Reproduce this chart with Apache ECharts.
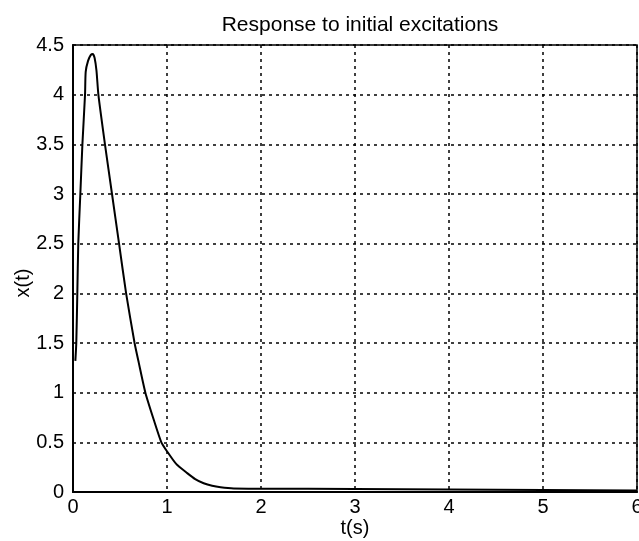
<!DOCTYPE html>
<html>
<head>
<meta charset="utf-8">
<script src="https://cdn.jsdelivr.net/npm/echarts@6/dist/echarts.min.js"></script>
<style>html,body{margin:0;padding:0;background:#fff;}#c{width:639px;height:541px;}</style>
</head>
<body>
<div id="c"></div>
<script>
var titleText = 'Response to initial excitations';
var xName = 't(s)';
var yName = 'x(t)';
var tValues = [0.025, 0.035, 0.046, 0.056, 0.078, 0.10, 0.128, 0.135, 0.16, 0.19, 0.21, 0.23, 0.25, 0.27, 0.34, 0.415, 0.49, 0.565, 0.655, 0.70, 0.77, 0.86, 0.94, 1.0, 1.1, 1.215, 1.30, 1.39, 1.48, 1.57, 1.71, 2.0, 3.0, 4.0, 5.0, 6.0];
var xValues = [1.32, 1.5, 2.0, 2.5, 3.0, 3.5, 4.0, 4.23, 4.34, 4.40, 4.41, 4.37, 4.24, 4.0, 3.5, 3.0, 2.5, 2.0, 1.5, 1.30, 1.0, 0.725, 0.5, 0.41, 0.28, 0.19, 0.13, 0.088, 0.062, 0.047, 0.035, 0.033, 0.03, 0.026, 0.02, 0.015];
var xTicks = [0, 1, 2, 3, 4, 5, 6];
var yTicks = [0, 0.5, 1, 1.5, 2, 2.5, 3, 3.5, 4, 4.5];

var pts = tValues.map(function (t, i) { return [t, xValues[i]]; });
var font = 'Liberation Sans, Arial, sans-serif';
var chart = echarts.init(document.getElementById('c'), null, {renderer: 'canvas'});
chart.setOption({
  animation: false,
  backgroundColor: '#fff',
  title: {
    text: titleText, left: 355, top: 10, textAlign: 'center',
    textStyle: {fontFamily: font, fontSize: 21, fontWeight: 'normal', color: '#000'}
  },
  grid: {left: 73, right: 2, top: 45, bottom: 49, outerBoundsMode: 'none', containLabel: false,
    show: true, borderColor: '#000', borderWidth: 1.5, backgroundColor: 'transparent'},
  xAxis: {
    type: 'value', min: xTicks[0], max: xTicks[xTicks.length - 1], interval: 1,
    name: xName, nameLocation: 'middle', nameGap: 26, nameMoveOverlap: false,
    nameTextStyle: {fontFamily: font, fontSize: 20, color: '#000'},
    axisLine: {show: true, onZero: false, lineStyle: {color: '#000', width: 2}},
    axisTick: {show: false},
    axisLabel: {fontFamily: font, fontSize: 20, color: '#000', margin: 5},
    splitLine: {show: true, lineStyle: {color: '#000', type: [3, 4], width: 1.5}}
  },
  yAxis: {
    type: 'value', min: yTicks[0], max: yTicks[yTicks.length - 1], interval: 0.5,
    name: yName, nameLocation: 'middle', nameGap: 40, nameMoveOverlap: false,
    nameTextStyle: {fontFamily: font, fontSize: 20, color: '#000', align: 'right'},
    axisLine: {show: true, onZero: false, lineStyle: {color: '#000', width: 2}},
    axisTick: {show: false},
    axisLabel: {fontFamily: font, fontSize: 20, color: '#000', margin: 9},
    splitLine: {show: true, lineStyle: {color: '#000', type: [3, 4], width: 1.5}}
  },
  series: [{
    type: 'line', data: pts, showSymbol: false, smooth: 0.2,
    lineStyle: {color: '#000', width: 2}
  }]
});
</script>
</body>
</html>
